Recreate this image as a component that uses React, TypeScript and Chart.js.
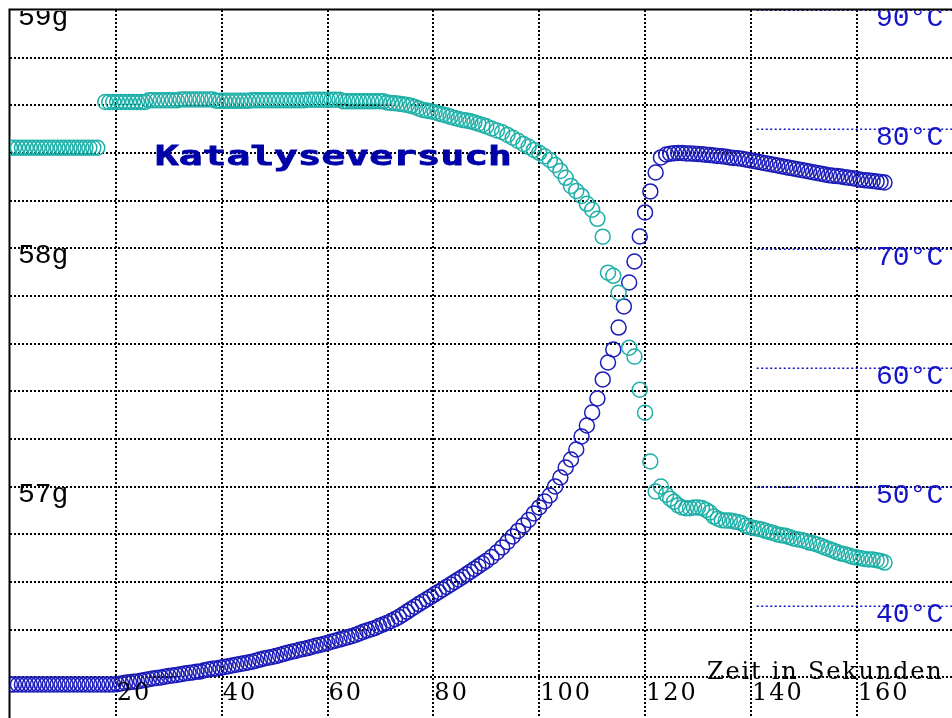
import React, { useEffect, useRef } from 'react';
import { Chart, registerables } from 'chart.js';

Chart.register(...registerables);

// Zeit in Sekunden (gemeinsame Zeitachse beider Messreihen)
const zeit = [
  0, 0.75, 1.5, 2.25, 3, 3.75, 4.5, 5.25, 6, 6.75, 7.5, 8.25,
  9, 9.75, 10.5, 11.25, 12, 12.75, 13.5, 14.25, 15, 15.75, 16.5, 17.25,
  18, 18.75, 19.5, 20.25, 21, 21.75, 22.5, 23.25, 24, 24.75, 25.5, 26.25,
  27, 27.75, 28.5, 29.25, 30, 30.75, 31.5, 32.25, 33, 33.75, 34.5, 35.25,
  36, 36.75, 37.5, 38.25, 39, 39.75, 40.5, 41.25, 42, 42.75, 43.5, 44.25,
  45, 45.75, 46.5, 47.25, 48, 48.75, 49.5, 50.25, 51, 51.75, 52.5, 53.25,
  54, 54.75, 55.5, 56.25, 57, 57.75, 58.5, 59.25, 60, 60.75, 61.5, 62.25,
  63, 63.75, 64.5, 65.25, 66, 66.75, 67.5, 68.25, 69, 69.75, 70.5, 71.25,
  72, 72.75, 73.5, 74.25, 75, 75.75, 76.5, 77.25, 78, 78.75, 79.5, 80.25,
  81, 81.75, 82.5, 83.25, 84, 84.75, 85.5, 86.25, 87, 87.75, 88.5, 89.25,
  90, 91, 92, 93, 94, 95, 96, 97, 98, 99, 100, 101,
  102, 103, 104, 105, 106, 107, 108, 109, 110, 111, 112, 113,
  114, 115, 116, 117, 118, 119, 120, 121, 122, 123, 124, 124.75,
  125.5, 126.25, 127, 127.75, 128.5, 129.25, 130, 130.75, 131.5, 132.25, 133, 133.75,
  134.5, 135.25, 136, 136.75, 137.5, 138.25, 139, 139.75, 140.5, 141.25, 142, 142.75,
  143.5, 144.25, 145, 145.75, 146.5, 147.25, 148, 148.75, 149.5, 150.25, 151, 151.75,
  152.5, 153.25, 154, 154.75, 155.5, 156.25, 157, 157.75, 158.5, 159.25, 160, 160.75,
  161.5, 162.25, 163, 163.75, 164.5, 165.25,
];

// Masse in g (linke Achse, türkis)
const masse: (number | null)[] = [
  58.422, 58.422, 58.422, 58.422, 58.422, 58.422, 58.422, 58.422, 58.422, 58.422, 58.422, 58.422,
  58.422, 58.422, 58.422, 58.422, 58.422, 58.422, 58.422, 58.422, 58.422, 58.422, 58.422, null,
  58.614, 58.614, 58.614, 58.614, 58.614, 58.614, 58.614, 58.614, 58.614, 58.614, 58.614, 58.621,
  58.621, 58.621, 58.621, 58.621, 58.621, 58.621, 58.621, 58.625, 58.625, 58.625, 58.625, 58.625,
  58.625, 58.625, 58.625, 58.625, 58.619, 58.619, 58.619, 58.619, 58.619, 58.619, 58.619, 58.619,
  58.619, 58.621, 58.621, 58.621, 58.621, 58.621, 58.621, 58.621, 58.621, 58.621, 58.621, 58.621,
  58.621, 58.621, 58.621, 58.624, 58.624, 58.624, 58.624, 58.624, 58.624, 58.624, 58.624, 58.624,
  58.617, 58.617, 58.617, 58.617, 58.617, 58.617, 58.617, 58.617, 58.617, 58.617, 58.617, 58.612,
  58.610, 58.609, 58.607, 58.605, 58.602, 58.598, 58.593, 58.587, 58.581, 58.578, 58.575, 58.571,
  58.566, 58.562, 58.557, 58.552, 58.547, 58.543, 58.539, 58.536, 58.533, 58.528, 58.523, 58.518,
  58.512, 58.503, 58.495, 58.487, 58.476, 58.464, 58.451, 58.438, 58.426, 58.413, 58.401, 58.386,
  58.371, 58.350, 58.325, 58.296, 58.262, 58.241, 58.220, 58.187, 58.162, 58.124, 58.049, 57.898,
  57.885, 57.814, null, 57.583, 57.546, 57.407, 57.311, 57.106, 56.980, 57.001, 56.967, 56.950,
  56.937, 56.922, 56.913, 56.910, 56.910, 56.913, 56.913, 56.911, 56.903, 56.892, 56.875, 56.866,
  56.860, 56.858, 56.858, 56.855, 56.852, 56.847, 56.837, 56.831, 56.827, 56.824, 56.821, 56.815,
  56.810, 56.806, 56.800, 56.797, 56.794, 56.789, 56.783, 56.780, 56.777, 56.773, 56.766, 56.763,
  56.758, 56.752, 56.745, 56.739, 56.733, 56.726, 56.720, 56.717, 56.712, 56.706, 56.703, 56.700,
  56.697, 56.695, 56.695, 56.692, 56.689, 56.682,
];

// Temperatur in °C (rechte Achse, blau)
const temperatur: (number | null)[] = [
  33.46, 33.46, 33.46, 33.46, 33.46, 33.46, 33.46, 33.46, 33.46, 33.46, 33.46, 33.46,
  33.46, 33.46, 33.46, 33.46, 33.46, 33.46, 33.46, 33.46, 33.46, 33.46, 33.46, 33.46,
  33.46, 33.46, 33.46, 33.48, 33.54, 33.61, 33.65, 33.68, 33.71, 33.78, 33.84, 33.90,
  33.96, 34.00, 34.05, 34.11, 34.17, 34.21, 34.26, 34.32, 34.38, 34.42, 34.47, 34.52,
  34.55, 34.65, 34.72, 34.77, 34.80, 34.87, 34.93, 34.99, 35.05, 35.12, 35.18, 35.24,
  35.31, 35.37, 35.45, 35.55, 35.64, 35.71, 35.77, 35.84, 35.93, 36.03, 36.12, 36.21,
  36.27, 36.37, 36.44, 36.51, 36.61, 36.70, 36.77, 36.85, 36.94, 37.04, 37.13, 37.22,
  37.32, 37.41, 37.50, 37.61, 37.74, 37.87, 37.99, 38.10, 38.20, 38.36, 38.49, 38.62,
  38.78, 38.94, 39.12, 39.33, 39.55, 39.77, 39.98, 40.20, 40.40, 40.60, 40.81, 41.02,
  41.22, 41.43, 41.64, 41.85, 42.06, 42.27, 42.48, 42.70, 42.92, 43.15, 43.37, 43.60,
  43.82, 44.15, 44.53, 44.95, 45.41, 45.87, 46.33, 46.79, 47.25, 47.80, 48.30, 48.80,
  49.30, 50.06, 50.81, 51.65, 52.32, 53.16, 54.25, 55.17, 56.26, 57.43, 59.03, 60.45,
  61.54, 63.38, 65.15, 67.16, 68.92, 71.01, 73.03, 74.79, 76.38, 77.64, 77.89, 77.95,
  77.99, 78.01, 78.01, 77.98, 77.97, 77.96, 77.93, 77.90, 77.87, 77.84, 77.80, 77.77,
  77.74, 77.70, 77.64, 77.60, 77.57, 77.53, 77.47, 77.41, 77.35, 77.28, 77.22, 77.15,
  77.09, 77.03, 76.97, 76.90, 76.84, 76.77, 76.71, 76.65, 76.59, 76.53, 76.46, 76.40,
  76.34, 76.28, 76.21, 76.15, 76.11, 76.08, 76.04, 75.98, 75.94, 75.90, 75.83, 75.77,
  75.73, 75.70, 75.67, 75.63, 75.59, 75.54,
];

const xTicks = [20, 40, 60, 80, 100, 120, 140, 160];
const masseGitter = [56.2, 56.4, 56.6, 56.8, 57.0, 57.2, 57.4, 57.6, 57.8, 58.0, 58.2, 58.4, 58.6, 58.8];
const masseLabels = [59, 58, 57];
const tempLabels = [90, 80, 70, 60, 50, 40];
const titel = 'Katalyseversuch';
const xTitel = 'Zeit in Sekunden';

const CYAN = '#1fb0a8';
const BLAU = '#1c1cb8';
const TITELBLAU = '#0000a8';
const LABELBLAU = '#1414c8';

const deko = {
  id: 'deko',
  beforeDatasetsDraw(chart: any) {
    const { ctx, chartArea: a, scales } = chart;
    const sx = scales.x;
    const sm = scales.y;
    const st = scales.y1;
    ctx.save();
    // schwarzes Punktgitter
    ctx.strokeStyle = '#000';
    ctx.lineWidth = 2;
    ctx.setLineDash([2, 2]);
    for (const g of masseGitter) {
      const py = Math.round(sm.getPixelForValue(g));
      ctx.beginPath();
      ctx.moveTo(a.left, py);
      ctx.lineTo(a.right, py);
      ctx.stroke();
    }
    for (const t of xTicks) {
      const px = Math.round(sx.getPixelForValue(t));
      ctx.beginPath();
      ctx.moveTo(px, a.top);
      ctx.lineTo(px, a.bottom);
      ctx.stroke();
    }
    // blaue Temperaturlinien
    ctx.strokeStyle = LABELBLAU;
    ctx.lineWidth = 1.5;
    ctx.setLineDash([2, 2.5]);
    const x0 = sx.getPixelForValue(141.1);
    for (const T of tempLabels) {
      const py = Math.round(st.getPixelForValue(T)) + 0.25;
      ctx.beginPath();
      ctx.moveTo(x0, py);
      ctx.lineTo(a.right, py);
      ctx.stroke();
    }
    // Rahmen
    ctx.setLineDash([]);
    ctx.strokeStyle = '#000';
    ctx.lineWidth = 2;
    ctx.beginPath();
    ctx.moveTo(a.left - 0.5, a.bottom);
    ctx.lineTo(a.left - 0.5, a.top - 0.5);
    ctx.lineTo(a.right, a.top - 0.5);
    ctx.stroke();
    ctx.restore();
  },
  afterDatasetsDraw(chart: any) {
    const { ctx, chartArea: a, scales } = chart;
    const sx = scales.x;
    const sm = scales.y;
    const st = scales.y1;
    ctx.save();
    ctx.beginPath();
    ctx.rect(a.left, a.top + 1, a.right - a.left, a.bottom - a.top);
    ctx.clip();
    ctx.textAlign = 'left';
    ctx.textBaseline = 'alphabetic';

    // Masse-Beschriftung
    ctx.fillStyle = '#000';
    ctx.font = '28px "Liberation Mono"';
    for (const g of masseLabels) {
      ctx.fillText(`${g}g`, a.left + 8, sm.getPixelForValue(g) + 15);
    }
    // Temperatur-Beschriftung
    ctx.fillStyle = LABELBLAU;
    for (const T of tempLabels) {
      ctx.fillText(`${T}°C`, a.right - 76, st.getPixelForValue(T) + 16);
    }
    // x-Achse
    ctx.fillStyle = '#000';
    ctx.font = '24px "DejaVu Serif"';
    (ctx as any).letterSpacing = '2px';
    for (const t of xTicks) {
      ctx.fillText(String(t), sx.getPixelForValue(t) + 1, a.bottom - 18);
    }
    (ctx as any).letterSpacing = '1.8px';
    ctx.fillText(xTitel, a.right - 245, a.bottom - 39);
    (ctx as any).letterSpacing = '0px';

    // Titel
    ctx.fillStyle = TITELBLAU;
    ctx.strokeStyle = TITELBLAU;
    ctx.lineWidth = 0.8;
    ctx.font = 'bold 26px "DejaVu Sans Mono"';
    ctx.translate(a.left + 145, a.top + 155);
    ctx.scale(1.52, 1);
    ctx.fillText(titel, 0, 0);
    ctx.strokeText(titel, 0, 0);
    ctx.restore();
  },
};

export default function App() {
  const ref = useRef<HTMLCanvasElement | null>(null);
  useEffect(() => {
    document.body.style.margin = '0';
    const canvas = ref.current;
    if (!canvas) return;
    const masseDaten = zeit
      .map((t, i) => ({ x: t, y: masse[i] }))
      .filter((p) => p.y !== null && p.y !== undefined);
    const tempDaten = zeit
      .map((t, i) => ({ x: t, y: temperatur[i] }))
      .filter((p) => p.y !== null && p.y !== undefined);
    const chart = new Chart(canvas, {
      type: 'scatter',
      data: {
        datasets: [
          {
            label: 'Masse',
            data: masseDaten as any,
            yAxisID: 'y',
            pointStyle: 'circle',
            pointRadius: 7.5,
            pointBorderWidth: 1.5,
            borderColor: CYAN,
            backgroundColor: 'rgba(0,0,0,0)',
            clip: 0,
          },
          {
            label: 'Temperatur',
            data: tempDaten as any,
            yAxisID: 'y1',
            pointStyle: 'circle',
            pointRadius: 7.5,
            pointBorderWidth: 1.5,
            borderColor: BLAU,
            backgroundColor: 'rgba(0,0,0,0)',
            clip: 0,
          },
        ],
      },
      options: {
        responsive: false,
        animation: false,
        events: [],
        layout: { autoPadding: false, padding: { left: 10, top: 10, right: 0, bottom: 0 } },
        plugins: {
          legend: { display: false },
          tooltip: { enabled: false },
          title: { display: false },
        },
        scales: {
          x: { type: 'linear', min: 0, max: 178, display: false },
          y: { type: 'linear', min: 56.03, max: 59, display: false },
          y1: { type: 'linear', min: 30.65, max: 90, display: false },
        },
      },
      plugins: [deko],
    });
    return () => chart.destroy();
  }, []);
  return (
    <div style={{ width: 952, height: 718, background: '#fff' }}>
      <canvas ref={ref} width={952} height={718} style={{ display: 'block' }} />
    </div>
  );
}
